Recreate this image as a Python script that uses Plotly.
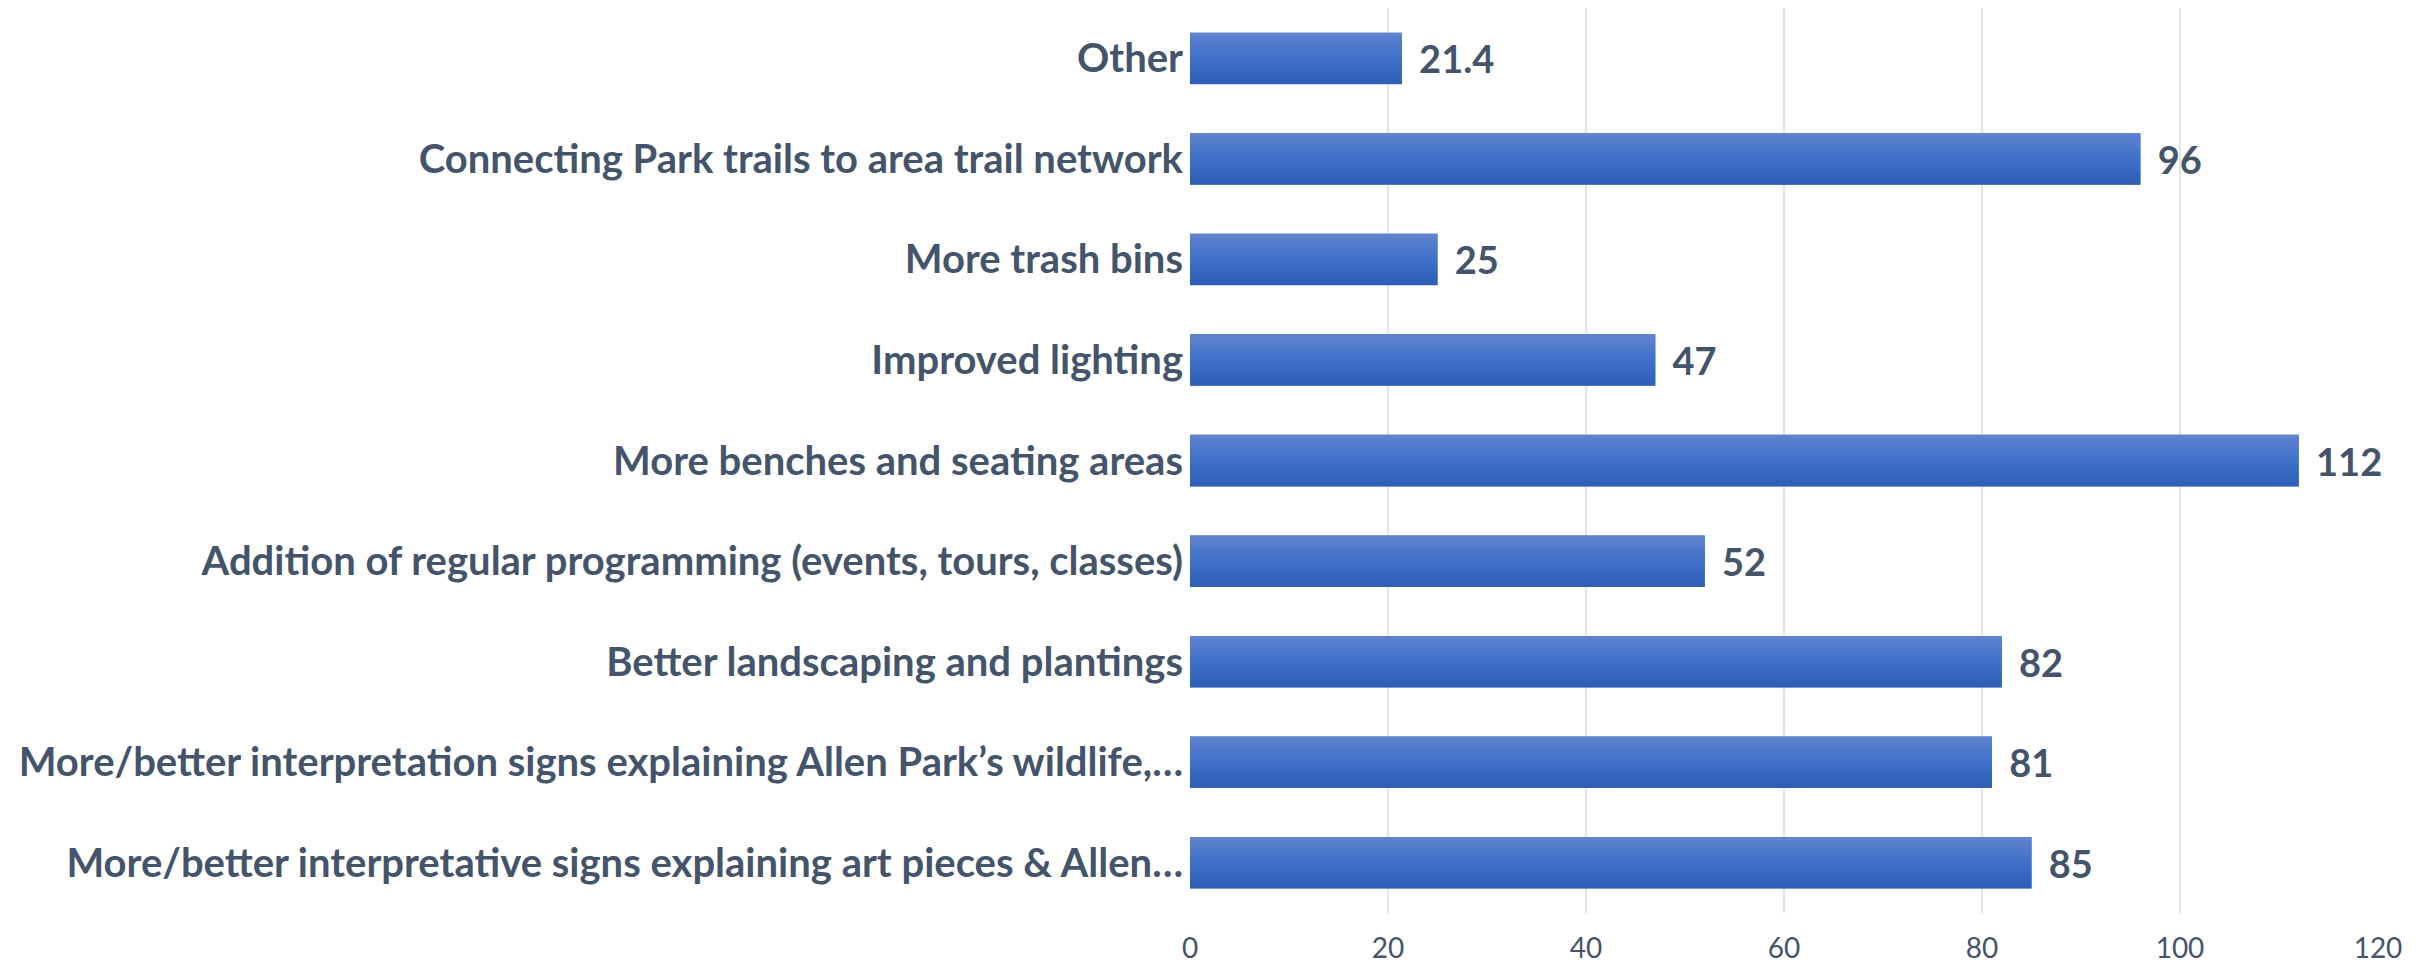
import plotly.graph_objects as go

categories = [
    "Other",
    "Connecting Park trails to area trail network",
    "More trash bins",
    "Improved lighting",
    "More benches and seating areas",
    "Addition of regular programming (events, tours, classes)",
    "Better landscaping and plantings",
    "More/better interpretation signs explaining Allen Park\u2019s wildlife,\u2026",
    "More/better interpretative signs explaining art pieces & Allen\u2026",
]
values = [21.4, 96, 25, 47, 112, 52, 82, 81, 85]
value_labels = ["21.4", "96", "25", "47", "112", "52", "82", "81", "85"]
x_ticks = [0, 20, 40, 60, 80, 100, 120]

TEXT = "#44546a"
FONT = "Lato"
BAR_W = 0.51
N_STRIPS = 16
top_rgb = (0x61, 0x84, 0xce)
mid_rgb = (0x3e, 0x71, 0xc9)
bot_rgb = (0x2e, 0x5e, 0xb5)


def lerp(a, b, t):
    return tuple(round(a[k] + (b[k] - a[k]) * t) for k in range(3))


def strip_color(t):
    # t=0 at top, t=1 at bottom
    if t < 0.5:
        c = lerp(top_rgb, mid_rgb, t / 0.5)
    else:
        c = lerp(mid_rgb, bot_rgb, (t - 0.5) / 0.5)
    return "rgb(%d,%d,%d)" % c


fig = go.Figure()

# base bar carries the data labels
fig.add_trace(go.Bar(
    x=values, y=categories, orientation="h", width=BAR_W,
    marker=dict(color=strip_color(0.5), line=dict(width=0)),
    text=["\u2009\u2009\u2009" + s for s in value_labels], textposition="outside",
    textfont=dict(family=FONT, size=38, color=TEXT, weight="bold"),
    cliponaxis=False, hoverinfo="x+y",
))

# gradient strips (top light -> bottom dark)
sw = BAR_W / N_STRIPS
for i in range(N_STRIPS):
    t = (i + 0.5) / N_STRIPS
    fig.add_trace(go.Bar(
        x=values, y=categories, orientation="h",
        width=sw * 1.08, offset=-BAR_W / 2 + i * sw,
        marker=dict(color=strip_color(t), line=dict(width=0)),
        hoverinfo="skip", showlegend=False,
    ))

fig.update_layout(
    width=2430, height=969,
    margin=dict(l=1190, r=52, t=8, b=56, autoexpand=False),
    paper_bgcolor="white", plot_bgcolor="white",
    barmode="overlay", showlegend=False,
    font=dict(family=FONT, color=TEXT),
    xaxis=dict(
        range=[0, 120], tickvals=x_ticks, ticks="",
        showgrid=True, gridcolor="#e1e5eb", gridwidth=2,
        zeroline=False, showline=False, automargin=False,
        tickfont=dict(family=FONT, size=28, color=TEXT),
        ticklabelstandoff=16,
    ),
    yaxis=dict(
        autorange="reversed", ticks="", showgrid=False, zeroline=False,
        showline=False, automargin=False,
        tickfont=dict(family=FONT, size=40, color=TEXT, weight="bold"),
        ticklabelstandoff=6,
    ),
)

# remove the browser's default 8px body margin so the figure fills the page
fig.write_html(
    "out.html",
    config={"displayModeBar": False},
    post_script="document.body.style.margin='0px';document.body.style.overflow='hidden';",
)
